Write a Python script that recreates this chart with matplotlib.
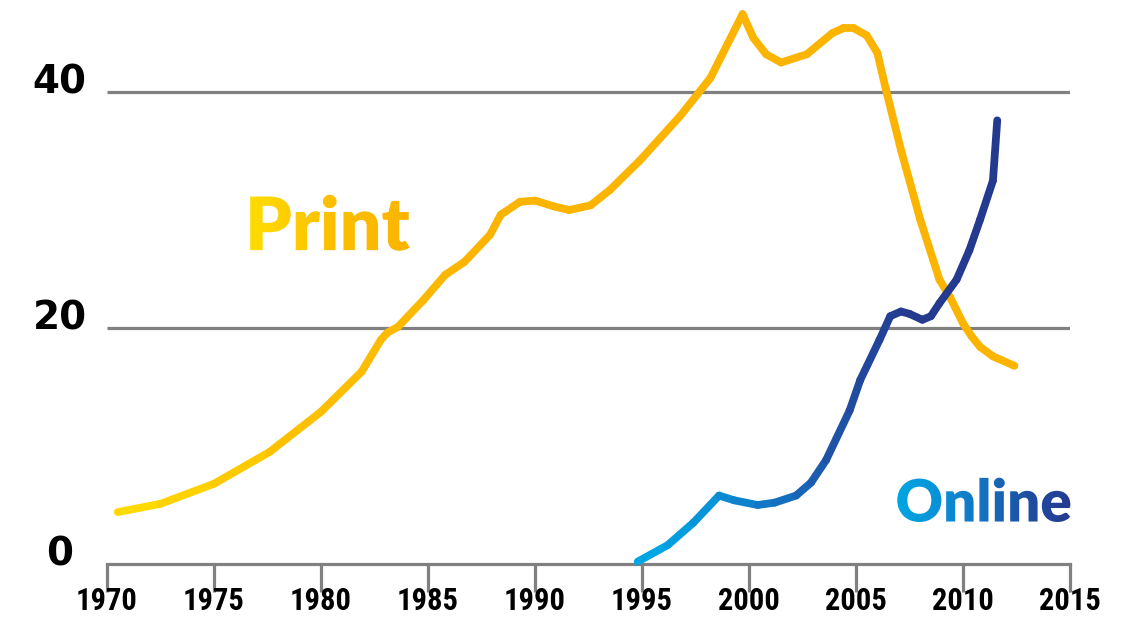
import numpy as np
import matplotlib
matplotlib.use("Agg")
import matplotlib.pyplot as plt
from matplotlib.collections import LineCollection
from matplotlib.colors import LinearSegmentedColormap
from matplotlib.patheffects import AbstractPathEffect
from matplotlib.transforms import ScaledTranslation, TransformedPath

# print readership share (%)
print_years = [1970.5, 1972.5, 1975.0, 1977.6, 1980.0, 1981.9, 1982.8, 1983.1, 1983.6,
               1984.8, 1985.8, 1986.7, 1987.9, 1988.4, 1989.3, 1990.0, 1990.9, 1991.6, 1992.6,
               1993.5, 1994.9, 1996.8, 1998.2, 1999.7, 2000.2, 2000.8, 2001.5, 2002.7, 2003.9,
               2004.4, 2004.9, 2005.5, 2006.0, 2006.4, 2007.1, 2008.0, 2008.9, 2009.4, 2010.0,
               2010.4, 2010.8, 2011.4, 2012.4]
print_vals = [4.4, 5.1, 6.8, 9.5, 12.9, 16.3, 19.0, 19.6, 20.1,
              22.4, 24.5, 25.6, 27.9, 29.6, 30.7, 30.8, 30.3, 30.0, 30.4,
              31.7, 34.2, 38.0, 41.2, 46.6, 44.6, 43.2, 42.5, 43.2, 45.0,
              45.4, 45.4, 44.8, 43.3, 40.2, 35.1, 29.2, 24.1, 22.6, 20.4,
              19.3, 18.4, 17.6, 16.8]

# online readership share (%)
online_years = [1994.8, 1996.2, 1997.4, 1998.6, 1999.3, 2000.4, 2001.2, 2002.2, 2002.9, 2003.6,
                2004.7, 2005.2, 2006.1, 2006.6, 2007.1, 2007.5, 2008.1, 2008.5, 2008.9, 2009.7,
                2010.3, 2010.8, 2011.4, 2011.6]
online_vals = [0.2, 1.6, 3.5, 5.8, 5.4, 5.0, 5.2, 5.8, 6.9, 8.8,
               13.0, 15.6, 19.0, 21.0, 21.4, 21.2, 20.7, 21.0, 22.1, 24.1,
               26.6, 29.2, 32.5, 37.6]

x_ticks = [1970, 1975, 1980, 1985, 1990, 1995, 2000, 2005, 2010, 2015]
y_ticks = [0, 20, 40]

print_cmap = LinearSegmentedColormap.from_list("print", ["#ffdc00", "#fcc000", "#fbb400"])
online_cmap = LinearSegmentedColormap.from_list("online", ["#00a6e2", "#0a90d6", "#1570c0", "#1f4ea2", "#243a8f"])
grey = "#808080"


class GradientFill(AbstractPathEffect):
    """Fill text glyphs with a left-to-right colour gradient."""

    def __init__(self, cmap):
        super().__init__()
        self.cmap = cmap

    def draw_path(self, renderer, gc, tpath, affine, rgbFace=None):
        ext = tpath.transformed(affine).get_extents()
        x0, y0 = int(np.floor(ext.x0)) - 1, int(np.floor(ext.y0)) - 1
        w = int(np.ceil(ext.x1)) - x0 + 2
        h = int(np.ceil(ext.y1)) - y0 + 2
        row = self.cmap(np.linspace(0, 1, w))
        img = (np.repeat(row[None, :, :], h, axis=0) * 255).astype(np.uint8)
        gc2 = renderer.new_gc()
        gc2.copy_properties(gc)
        gc2.set_clip_path(TransformedPath(tpath, affine))
        renderer.draw_image(gc2, x0, y0, img)
        gc2.restore()


def gradient_line(ax, xs, ys, cmap, x0, x1):
    pts = np.column_stack([xs, ys])
    segs = np.stack([pts[:-1], pts[1:]], axis=1)
    mids = (pts[:-1, 0] + pts[1:, 0]) / 2
    t = np.clip((mids - x0) / (x1 - x0), 0, 1)
    lc = LineCollection(segs, colors=cmap(t), linewidths=5.6,
                        capstyle="round", joinstyle="round", clip_on=False, zorder=3)
    ax.add_collection(lc)


fig = plt.figure(figsize=(11.32, 6.22), dpi=100)
ax = fig.add_axes([107 / 1132, 58 / 622, 963 / 1132, 564 / 622])
ax.set_xlim(1970, 2015)
ax.set_ylim(0, 47.8)

ax.hlines([20, 40], 1970, 2015.1, color=grey, lw=2.3, zorder=1)

gradient_line(ax, print_years, print_vals, print_cmap, 1970.5, 1988)
gradient_line(ax, online_years, online_vals, online_cmap, 1995.5, 2007.5)

for s in ["top", "right", "left"]:
    ax.spines[s].set_visible(False)
ax.spines["bottom"].set_color(grey)
ax.spines["bottom"].set_linewidth(2.3)

ax.set_xticks(x_ticks)
ax.set_xticklabels([str(y) for y in x_ticks], family=["Roboto Condensed", "Liberation Sans Narrow", "DejaVu Sans"],
                   fontweight="heavy", fontsize=22)
ax.tick_params(axis="x", direction="out", length=20, width=2.3, color=grey, pad=-4.5)

ax.set_yticks(y_ticks)
ax.set_yticklabels([str(v) for v in y_ticks], family=["DejaVu Sans"], fontweight="heavy", fontsize=28)
ax.tick_params(axis="y", length=0, pad=34)
for lbl in ax.get_yticklabels():
    lbl.set_horizontalalignment("center")
    lbl.set_transform(lbl.get_transform() + ScaledTranslation(0, 10 / 72, fig.dpi_scale_trans))

t1 = ax.text(1976.45, 26.6, "Print", fontsize=53, fontweight="heavy", family=["Lato", "DejaVu Sans"],
             ha="left", va="baseline", color="#fdc600")
t1.set_path_effects([GradientFill(print_cmap)])
t2 = ax.text(2006.85, 3.6, "Online", fontsize=42, fontweight="heavy", family=["Lato", "DejaVu Sans"],
             ha="left", va="baseline", color="#0a7cc8")
t2.set_path_effects([GradientFill(online_cmap)])

fig.savefig("out.png", dpi=100)
